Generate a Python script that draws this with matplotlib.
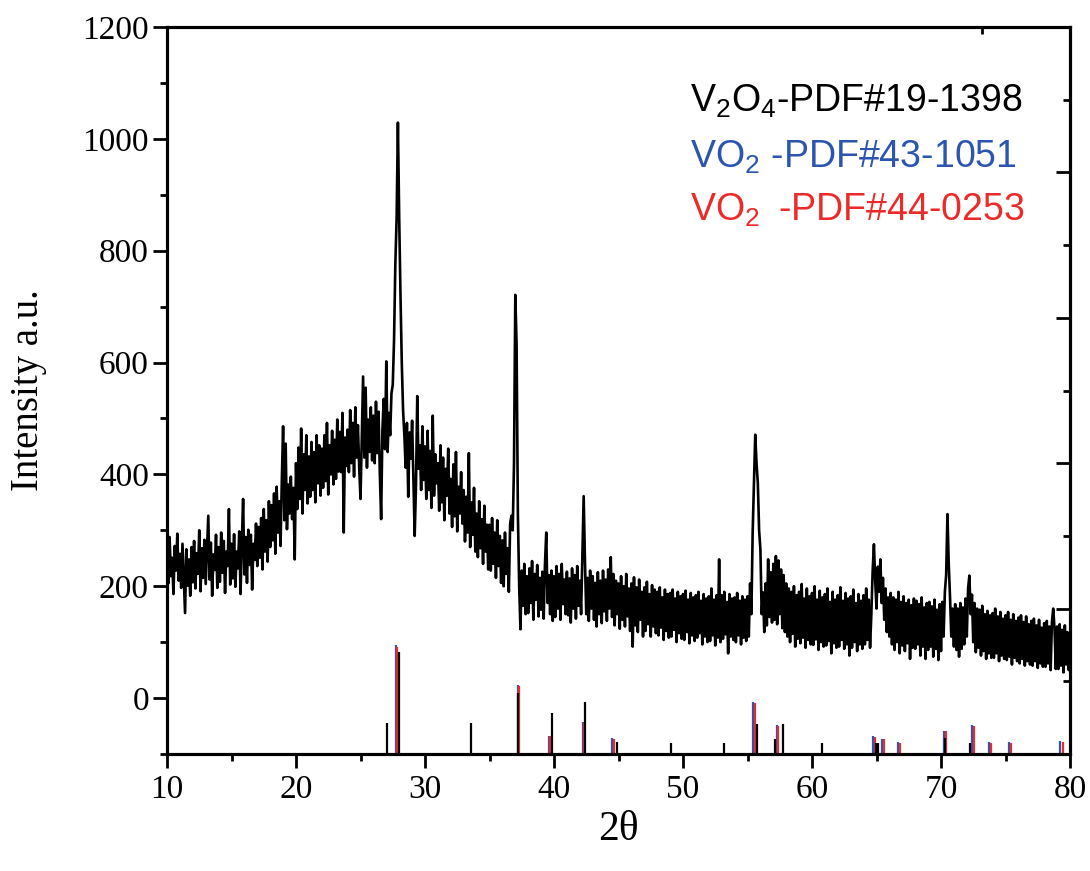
import matplotlib
matplotlib.use("Agg")
import matplotlib.pyplot as plt
from matplotlib.ticker import MultipleLocator, NullFormatter
import numpy as np

# ---------------- data ----------------
# measured pattern, sampled every 0.1 deg from 10.0 to 80.0 (rows = 1 degree each)
intensity_rows = [
    [262, 205, 288, 218, 251, 186, 272, 228, 294, 210],  # 10
    [258, 197, 276, 214, 152, 266, 201, 248, 183, 270],  # 11
    [207, 281, 196, 259, 222, 300, 191, 268, 215, 283],  # 12
    [204, 266, 326, 212, 278, 183, 257, 229, 292, 197],  # 13
    [270, 208, 296, 224, 281, 188, 262, 236, 338, 203],  # 14
    [276, 214, 293, 199, 262, 232, 298, 186, 278, 356],  # 15
    [221, 288, 206, 301, 238, 292, 194, 276, 247, 312],  # 16
    [236, 306, 251, 322, 230, 338, 262, 318, 244, 352],  # 17
    [270, 345, 282, 366, 258, 378, 296, 352, 272, 388],  # 18
    [486, 318, 455, 302, 382, 330, 396, 320, 376, 248],  # 19
    [420, 338, 448, 356, 482, 330, 436, 372, 470, 348],  # 20
    [432, 360, 458, 372, 440, 350, 470, 384, 452, 362],  # 21
    [446, 376, 470, 388, 492, 364, 452, 400, 478, 382],  # 22
    [462, 392, 498, 405, 476, 404, 510, 296, 466, 415],  # 23
    [480, 404, 515, 420, 492, 396, 520, 430, 488, 412],  # 24
    [356, 470, 575, 430, 555, 412, 498, 440, 520, 425],  # 25
    [505, 420, 530, 438, 512, 400, 320, 480, 535, 445],  # 26
    [602, 440, 510, 470, 545, 560, 640, 775, 858, 1029],  # 27
    [858, 720, 600, 515, 470, 412, 492, 360, 475, 428],  # 28
    [496, 395, 290, 380, 540, 410, 452, 372, 486, 390],  # 29
    [450, 356, 478, 372, 442, 340, 505, 362, 436, 384],  # 30
    [420, 335, 452, 350, 430, 318, 410, 362, 446, 330],  # 31
    [392, 306, 418, 325, 440, 298, 378, 330, 404, 312],  # 32
    [372, 280, 360, 296, 438, 270, 350, 292, 376, 262],  # 33
    [330, 252, 352, 268, 320, 240, 344, 262, 310, 230],  # 34
    [310, 228, 322, 240, 296, 215, 318, 236, 290, 206],  # 35
    [282, 200, 296, 222, 268, 190, 312, 326, 300, 420],  # 36
    [721, 632, 330, 200, 123, 228, 165, 240, 150, 218],  # 37
    [152, 232, 170, 245, 140, 222, 176, 238, 146, 215],  # 38
    [158, 226, 142, 240, 296, 170, 220, 150, 228, 138],  # 39
    [218, 145, 236, 160, 222, 140, 240, 168, 212, 150],  # 40
    [226, 148, 214, 135, 232, 160, 220, 142, 236, 165],  # 41
    [210, 150, 260, 361, 245, 150, 215, 138, 228, 160],  # 42
    [218, 140, 206, 128, 225, 150, 210, 134, 228, 155],  # 43
    [212, 138, 230, 160, 252, 145, 222, 130, 210, 150],  # 44
    [205, 124, 218, 140, 200, 128, 222, 146, 196, 120],  # 45
    [205, 92, 216, 130, 198, 118, 212, 140, 190, 110],   # 46
    [198, 120, 208, 132, 186, 110, 202, 128, 194, 116],  # 47
    [190, 112, 198, 126, 180, 104, 194, 120, 186, 108],  # 48
    [188, 110, 194, 122, 178, 100, 190, 116, 182, 106],  # 49
    [186, 104, 192, 118, 176, 98, 188, 112, 180, 102],   # 50
    [184, 108, 190, 116, 174, 96, 186, 110, 178, 100],   # 51
    [182, 102, 196, 112, 176, 94, 184, 108, 248, 100],   # 52
    [184, 106, 190, 114, 172, 80, 186, 110, 178, 104],   # 53
    [180, 100, 188, 112, 174, 96, 182, 108, 176, 102],   # 54
    [182, 110, 205, 150, 296, 380, 471, 420, 385, 300],  # 55
    [266, 150, 189, 118, 205, 130, 248, 145, 225, 135],  # 56
    [240, 140, 254, 132, 246, 150, 230, 125, 220, 118],  # 57
    [205, 110, 196, 100, 190, 115, 200, 92, 184, 106],   # 58
    [190, 98, 204, 108, 178, 90, 196, 104, 182, 96],     # 59
    [188, 95, 200, 105, 176, 86, 192, 100, 180, 92],     # 60
    [186, 94, 196, 102, 172, 80, 190, 98, 176, 90],      # 61
    [184, 92, 198, 104, 174, 88, 188, 96, 178, 76],      # 62
    [182, 90, 194, 100, 170, 84, 186, 96, 174, 88],      # 63
    [184, 96, 196, 104, 176, 90, 150, 226, 275, 210],    # 64
    [160, 235, 190, 248, 170, 215, 140, 196, 118, 180],  # 65
    [110, 188, 96, 180, 86, 176, 100, 190, 80, 172],     # 66
    [94, 182, 84, 170, 98, 176, 70, 166, 90, 178],       # 67
    [88, 174, 96, 168, 76, 180, 92, 162, 70, 170],       # 68
    [86, 172, 92, 164, 74, 176, 88, 158, 68, 168],       # 69
    [84, 172, 110, 190, 220, 329, 240, 180, 110, 160],   # 70
    [92, 168, 86, 160, 74, 170, 88, 162, 96, 178],       # 71
    [110, 196, 219, 150, 185, 100, 170, 82, 160, 90],    # 72
    [158, 76, 165, 84, 150, 70, 156, 80, 148, 72],       # 73
    [152, 72, 160, 80, 146, 66, 154, 76, 142, 70],       # 74
    [148, 68, 154, 74, 140, 60, 150, 72, 138, 66],       # 75
    [144, 62, 148, 70, 136, 58, 146, 66, 132, 60],       # 76
    [138, 58, 142, 66, 130, 54, 140, 62, 126, 56],       # 77
    [134, 56, 138, 62, 128, 50, 136, 160, 124, 52],      # 78
    [128, 52, 132, 58, 122, 46, 130, 60, 118, 50],       # 79
    [90],                                                # 80.0
]
intensity = [v for row in intensity_rows for v in row]
two_theta = np.round(10.0 + 0.1 * np.arange(len(intensity)), 1)

# reference patterns (stick positions, stick heights in intensity units)
v2o4_pos = [27.07, 27.96, 33.57, 37.22, 39.87, 42.40, 44.86, 49.04, 53.18,
            55.71, 57.13, 57.72, 60.75, 64.98, 65.14, 70.31, 72.25]
v2o4_int = [55, 182, 55, 109, 73, 93, 21, 20, 20,
            54, 27, 54, 20, 20, 20, 28, 20]

vo2a_pos = [27.73, 37.19, 39.61, 42.27, 44.50, 55.44, 57.27, 64.75, 65.42,
            66.69, 70.23, 72.40, 73.70, 75.28, 79.25]
vo2a_int = [195, 123, 32, 57, 28, 93, 52, 32, 27,
            21, 41, 52, 21, 21, 23]

vo2b_pos = [27.85, 37.30, 39.71, 42.36, 44.62, 55.59, 57.39, 64.88, 65.55,
            66.85, 70.39, 72.53, 73.85, 75.40, 79.42]
vo2b_int = [192, 122, 32, 55, 27, 92, 50, 30, 26,
            20, 41, 50, 20, 20, 21]

labels = ["V$\\mathregular{_2}$O$\\mathregular{_4}$-PDF#19-1398",
          "VO$\\mathregular{_2}$ -PDF#43-1051",
          "VO$\\mathregular{_2}$ \u2009-PDF#44-0253"]

# ---------------- style ----------------
BLUE = "#2b55b0"
RED = "#ec2a2a"
YMIN, YMAX = -100, 1200

plt.rcParams["font.family"] = ["Liberation Serif", "DejaVu Serif"]
plt.rcParams["mathtext.fontset"] = "custom"
plt.rcParams["mathtext.rm"] = "Liberation Sans"

fig = plt.figure(figsize=(10.9, 8.71), dpi=100)
ax = fig.add_axes([167 / 1090, 1 - 754 / 871, 903 / 1090, 727 / 871])

ax.plot(two_theta, intensity, color="black", lw=1.9, zorder=3)

ax.vlines(vo2a_pos, YMIN, YMIN + np.array(vo2a_int), color=BLUE, lw=1.6, zorder=2)
ax.vlines(vo2b_pos, YMIN, YMIN + np.array(vo2b_int), color=RED, lw=1.6, zorder=2)
ax.vlines(v2o4_pos, YMIN, YMIN + np.array(v2o4_int), color="black", lw=1.6, zorder=2.5)

ax.set_xlim(10, 80)
ax.set_ylim(YMIN, YMAX)
ax.xaxis.set_major_locator(MultipleLocator(10))
ax.xaxis.set_minor_locator(MultipleLocator(5))
ax.yaxis.set_major_locator(MultipleLocator(200))
ax.yaxis.set_minor_locator(MultipleLocator(100))
ax.set_yticks(np.arange(0, 1201, 200))

for s in ax.spines.values():
    s.set_linewidth(2.2)
ax.tick_params(which="major", direction="out", length=10, width=2.0,
               labelsize=24, pad=3)
ax.tick_params(which="minor", direction="out", length=5, width=2.0)
ax.tick_params(axis="x", which="major", pad=5)

ax.set_xlabel("2\u03b8", fontsize=30)
ax.xaxis.set_label_coords(0.5, -0.078)
ax.set_ylabel("Intensity a.u.", fontsize=28)
ax.yaxis.set_label_coords(-0.1325, 0.5)

# right axis (second layer) ticks
ax2 = ax.twinx()
ax2.set_ylim(0, 5)
ax2.yaxis.set_major_locator(MultipleLocator(1))
ax2.yaxis.set_minor_locator(MultipleLocator(0.5))
ax2.yaxis.set_major_formatter(NullFormatter())
ax2.tick_params(axis="y", which="major", direction="in", length=10, width=2.0)
ax2.tick_params(axis="y", which="minor", direction="in", length=5, width=2.0)
for s in ax2.spines.values():
    s.set_linewidth(2.2)

# top axis tick
ax3 = ax.twiny()
ax3.set_xlim(ax.get_xlim())
ax3.set_xticks([73.2])
ax3.xaxis.set_major_formatter(NullFormatter())
ax3.tick_params(axis="x", which="major", direction="in", length=5, width=2.0)
for s in ax3.spines.values():
    s.set_linewidth(2.2)

label_colors = ["black", BLUE, RED]
label_y = [0.883, 0.807, 0.733]
for txt, c, yy in zip(labels, label_colors, label_y):
    ax.text(0.579, yy, txt, transform=ax.transAxes, color=c, fontsize=27,
            family=["Liberation Sans", "DejaVu Sans"], va="baseline", ha="left")

fig.savefig("out.png", dpi=100)
